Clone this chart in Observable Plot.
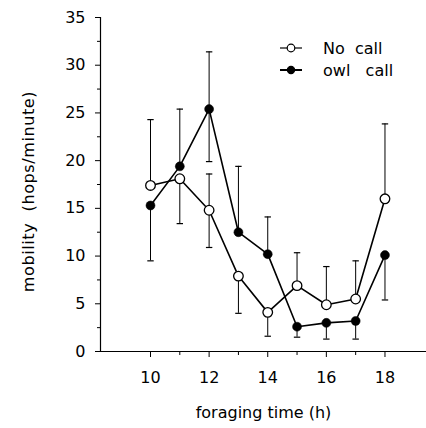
<!DOCTYPE html>
<html>
<head>
<meta charset="utf-8">
<script src="https://cdn.jsdelivr.net/npm/d3@7"></script>
<script src="https://cdn.jsdelivr.net/npm/@observablehq/plot@0.6"></script>
<style>
  html, body { margin: 0; padding: 0; background: white; }
  #wrap { position: relative; width: 426px; height: 428px; }
  #legend { position: absolute; left: 0; top: 0; pointer-events: none; }
  g[aria-label="y-axis label"] text { letter-spacing: 0.6px; }
</style>
</head>
<body>
<div id="wrap"><div id="chart"></div><div id="legend"></div></div>
<script>
// ---- data ----
const hours = [10, 11, 12, 13, 14, 15, 16, 17, 18];
const noCall = [17.4, 18.1, 14.8, 7.9, 4.1, 6.9, 4.9, 5.5, 16.0];
const owlCall = [15.3, 19.4, 25.4, 12.5, 10.2, 2.6, 3.0, 3.2, 10.1];
// error bar ends (null = that side not drawn)
const noCallUpper = [24.3, null, 18.6, null, null, 10.35, 8.9, 9.5, 23.85];
const noCallLower = [null, 13.4, 10.9, 4.0, 1.6, null, null, null, null];
const owlCallUpper = [null, 25.4, 31.4, 19.4, 14.1, null, null, null, null];
const owlCallLower = [9.5, null, 19.9, null, null, 1.5, 1.3, 1.3, 5.4];
const seriesNames = ["No  call", "owl   call"];
const yMajor = [0, 5, 10, 15, 20, 25, 30, 35];
const yMinor = [2.5, 7.5, 12.5, 17.5, 22.5, 27.5, 32.5];
const xMajor = [10, 12, 14, 16, 18];
const xMinor = [11, 13, 15, 17];
const xDomain = [8.294, 19.417];
const yDomain = [0, 35];
const xTitle = "foraging time (h)";
const yTitle = "mobility  (hops/minute)";

// ---- build tables ----
const noRows = hours.map((h, i) => ({h, v: noCall[i], s: "no"}));
const owlRows = hours.map((h, i) => ({h, v: owlCall[i], s: "owl"}));
const errRows = [];
hours.forEach((h, i) => {
  [[noCall, noCallUpper, noCallLower], [owlCall, owlCallUpper, owlCallLower]].forEach(([vals, up, lo]) => {
    if (up[i] != null) errRows.push({h, v: vals[i], end: up[i]});
    if (lo[i] != null) errRows.push({h, v: vals[i], end: lo[i]});
  });
});
const capSymbol = {draw(ctx) { ctx.moveTo(-3.2, 0); ctx.lineTo(3.2, 0); }};
const FS = 16;

const chart = Plot.plot({
  width: 426, height: 428,
  marginLeft: 100, marginRight: 0, marginTop: 17, marginBottom: 77,
  style: {fontFamily: "DejaVu Sans", fontSize: "16px", background: "white", color: "black", overflow: "visible"},
  x: {domain: xDomain},
  y: {domain: yDomain},
  marks: [
    Plot.axisY({ticks: yMajor, tickSize: 5, tickPadding: 10, tickFormat: d => String(d), fontSize: FS,
      label: yTitle, labelAnchor: "center", labelOffset: 78, labelArrow: "none"}),
    Plot.axisY({ticks: yMinor, tickSize: 3, tickFormat: () => "", label: null}),
    Plot.axisX({ticks: xMajor, tickSize: 6, tickPadding: 14, tickFormat: d => String(d), fontSize: FS,
      label: xTitle, labelAnchor: "center", labelOffset: 66, labelArrow: "none"}),
    Plot.axisX({ticks: xMinor, tickSize: 4, tickFormat: () => "", label: null}),
    Plot.ruleY([yDomain[0]], {stroke: "black", strokeWidth: 1.2}),
    Plot.ruleX([xDomain[0]], {stroke: "black", strokeWidth: 1.2}),
    Plot.ruleX(errRows, {x: "h", y1: "v", y2: "end", stroke: "black", strokeWidth: 1}),
    Plot.dot(errRows, {x: "h", y: "end", symbol: capSymbol, stroke: "black", strokeWidth: 1.2, r: 3}),
    Plot.line(noRows, {x: "h", y: "v", stroke: "black", strokeWidth: 1.6}),
    Plot.line(owlRows, {x: "h", y: "v", stroke: "black", strokeWidth: 1.6}),
    Plot.dot(owlRows, {x: "h", y: "v", r: 4.5, fill: "black", stroke: "black", strokeWidth: 0.5}),
    Plot.dot(noRows, {x: "h", y: "v", r: 4.8, fill: "white", stroke: "black", strokeWidth: 1.3})
  ]
});
document.getElementById("chart").appendChild(chart);
// nudge the y title slightly down, as in the reference
d3.select(chart).selectAll('g[aria-label="y-axis label"]').each(function() {
  const t = this.getAttribute("transform") || "";
  this.setAttribute("transform", (t + " translate(0,7)").trim());
});

// ---- legend ----
const lg = d3.select("#legend").append("svg").attr("width", 426).attr("height", 100)
  .style("font-family", "DejaVu Sans").style("font-size", "16px");
const rowsY = [48, 70];
seriesNames.forEach((name, i) => {
  const y = rowsY[i];
  lg.append("line").attr("x1", 280).attr("x2", 302).attr("y1", y).attr("y2", y)
    .attr("stroke", "black").attr("stroke-width", i === 0 ? 1.2 : 2);
  lg.append("circle").attr("cx", 291).attr("cy", y).attr("r", i === 0 ? 3.8 : 3.6)
    .attr("fill", i === 0 ? "white" : "black").attr("stroke", "black").attr("stroke-width", 1.2);
  lg.append("text").attr("x", 323).attr("y", y + 5.5).style("white-space", "pre").text(name);
});
</script>
</body>
</html>
